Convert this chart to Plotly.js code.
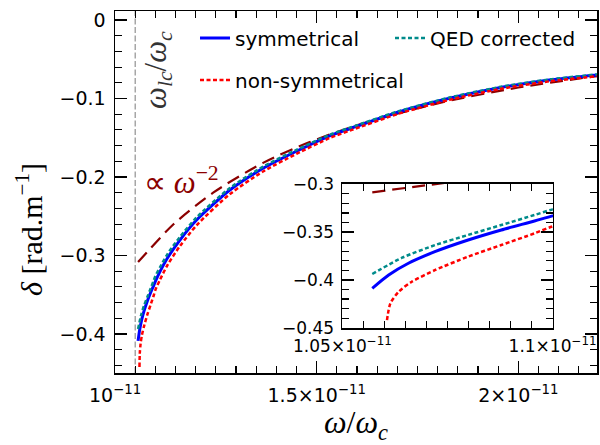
<!DOCTYPE html>
<html>
<head>
<meta charset="utf-8">
<script src="https://cdn.plot.ly/plotly-3.0.1.min.js"></script>
<style>
html,body{margin:0;padding:0;background:#fff;}
#chart{width:600px;height:445px;}
</style>
</head>
<body>
<div id="chart"></div>
<script>
// ---- data (ω/ωc, δ in rad/m) ----
const cutoffX = [1.05e-11];

const symX = [1.0571e-11, 1.0610e-11, 1.0657e-11, 1.0720e-11, 1.0799e-11, 1.0878e-11, 1.0957e-11, 1.1000e-11,
              1.1114e-11, 1.1300e-11, 1.1609e-11, 1.2022e-11, 1.2847e-11, 1.3670e-11, 1.4497e-11, 1.5322e-11,
              1.5817e-11, 1.7054e-11, 1.8292e-11, 1.9530e-11, 2.0767e-11, 2.1950e-11];
const symY = [-0.4088, -0.3949, -0.3826, -0.3705, -0.3583, -0.3478, -0.3384, -0.3330,
              -0.3205, -0.3032, -0.2803, -0.2548, -0.2166, -0.1889, -0.1672, -0.1475,
              -0.1385, -0.1168, -0.0997, -0.0862, -0.0764, -0.0700];

const qedX = [1.0571e-11, 1.0642e-11, 1.0721e-11, 1.0799e-11, 1.0878e-11, 1.0957e-11, 1.1000e-11,
              1.1114e-11, 1.1300e-11, 1.1609e-11, 1.2022e-11, 1.2847e-11, 1.3670e-11, 1.4497e-11, 1.5322e-11,
              1.5817e-11, 1.7054e-11, 1.8292e-11, 1.9530e-11, 2.0767e-11, 2.1950e-11];
const qedY = [-0.3938, -0.3768, -0.3635, -0.3530, -0.3426, -0.3321, -0.3262,
              -0.3150, -0.2982, -0.2763, -0.2515, -0.2140, -0.1868, -0.1655, -0.1462,
              -0.1373, -0.1158, -0.0988, -0.0854, -0.0757, -0.0693];

const nonX = [1.0606e-11, 1.0614e-11, 1.0634e-11, 1.0665e-11, 1.0721e-11, 1.0799e-11, 1.0878e-11, 1.0957e-11, 1.1000e-11,
              1.1114e-11, 1.1300e-11, 1.1609e-11, 1.2022e-11, 1.2847e-11, 1.3670e-11, 1.4497e-11, 1.5322e-11,
              1.5817e-11, 1.7054e-11, 1.8292e-11, 1.9530e-11, 2.0767e-11, 2.1950e-11];
const nonY = [-0.4420, -0.4245, -0.4123, -0.4019, -0.3896, -0.3757, -0.3635, -0.3513, -0.3440,
              -0.3310, -0.3122, -0.2880, -0.2615, -0.2218, -0.1930, -0.1705, -0.1503,
              -0.1410, -0.1190, -0.1017, -0.0880, -0.0781, -0.0717];

const powX = [1.0571e-11, 1.0713e-11, 1.1443e-11, 1.2433e-11, 1.3670e-11, 1.4827e-11, 1.6000e-11, 1.8000e-11, 2.0000e-11, 2.1950e-11];
const powY = [-0.3084, -0.3003, -0.2605, -0.2200, -0.1820, -0.1555, -0.1340, -0.1062, -0.0860, -0.0714];

const mainXTicks = [1e-11, 1.5e-11, 2e-11];
const mainXText = ['10<sup>−11</sup>', '1.5×10<sup>−11</sup>', '2×10<sup>−11</sup>'];
const insetXTicks = [1.05e-11, 1.1e-11];
const insetXText = ['1.05×10<sup>−11</sup>', '1.1×10<sup>−11</sup>'];

// ---- styles ----
const C_SYM = '#0000ff', C_QED = '#008b8b', C_NON = '#ff0000', C_POW = '#8b0000';
const SANS = 'DejaVu Sans', SERIF = 'Liberation Serif';

function series(axes, show) {
  return [
    {x: powX, y: powY, xaxis: axes[0], yaxis: axes[1], mode: 'lines', showlegend: false, hoverinfo: 'skip',
     line: {color: C_POW, width: 2.2, dash: '13px,7px', shape: 'spline', smoothing: 0.8}},
    {x: symX, y: symY, xaxis: axes[0], yaxis: axes[1], mode: 'lines', name: 'symmetrical', showlegend: show, legend: 'legend',
     line: {color: C_SYM, width: 3, shape: 'spline', smoothing: 0.7}},
    {x: qedX, y: qedY, xaxis: axes[0], yaxis: axes[1], mode: 'lines', name: 'QED corrected', showlegend: show, legend: 'legend',
     line: {color: C_QED, width: 2.5, dash: '4px,2.5px', shape: 'spline', smoothing: 0.7}},
    {x: nonX, y: nonY, xaxis: axes[0], yaxis: axes[1], mode: 'lines', name: 'non-symmetrical', showlegend: show, legend: 'legend2',
     line: {color: C_NON, width: 2.5, dash: '4px,2.5px', shape: 'spline', smoothing: 0.7}}
  ];
}

const traces = series(['x', 'y'], true).concat(series(['x2', 'y2'], false));

const axisCommon = {
  showline: true, linecolor: '#000', linewidth: 1.5, mirror: 'allticks',
  ticks: 'inside', ticklen: 12, tickwidth: 1.3, tickcolor: '#000',
  showgrid: false, zeroline: false, automargin: false
};
const minorCommon = {ticks: 'inside', ticklen: 7, tickwidth: 1.1, tickcolor: '#000'};

const layout = {
  width: 600, height: 445,
  margin: {l: 115, r: 3, t: 11, b: 72},
  paper_bgcolor: '#fff', plot_bgcolor: '#fff',
  font: {family: SANS, color: '#000'},
  xaxis: Object.assign({}, axisCommon, {
    range: [0.9999e-11, 2.195e-11],
    tickmode: 'array', tickvals: mainXTicks, ticktext: mainXText,
    tickfont: {family: SANS, size: 19}, ticklabelstandoff: 5,
    minor: Object.assign({tickmode: 'linear', tick0: 1e-11, dtick: 5e-13}, minorCommon),
    title: {text: '<i>ω</i>/<i>ω</i><sub><i>c</i></sub>', font: {family: SERIF, size: 32}, standoff: 24}
  }),
  yaxis: Object.assign({}, axisCommon, {
    range: [-0.4497, 0.0115],
    tickmode: 'linear', tick0: 0, dtick: 0.1,
    tickfont: {family: SANS, size: 19}, ticklabelstandoff: 4,
    minor: Object.assign({tickmode: 'linear', tick0: 0, dtick: 0.02}, minorCommon),
    title: {text: '<i>δ</i> [rad.m<sup>−1</sup>]&nbsp;&nbsp;&nbsp;&nbsp;&nbsp;&nbsp;&nbsp;&nbsp;&nbsp;&nbsp;',
            font: {family: SERIF, size: 30}, standoff: 8}
  }),
  xaxis2: Object.assign({}, axisCommon, {
    domain: [0.471, 0.9087], anchor: 'y2',
    range: [1.0499e-11, 1.1001e-11],
    tickmode: 'array', tickvals: insetXTicks, ticktext: insetXText,
    tickfont: {family: SANS, size: 17}, ticklabelstandoff: 2,
    minor: Object.assign({tickmode: 'linear', tick0: 1.05e-11, dtick: 5e-14}, minorCommon)
  }),
  yaxis2: Object.assign({}, axisCommon, {
    domain: [0.1243, 0.5221], anchor: 'x2',
    range: [-0.4503, -0.2997],
    tickmode: 'linear', tick0: 0, dtick: 0.05,
    tickfont: {family: SANS, size: 17}, ticklabelstandoff: 3,
    minor: Object.assign({tickmode: 'linear', tick0: 0, dtick: 0.01}, minorCommon)
  }),
  legend: {orientation: 'h', x: 0.166, xanchor: 'left', y: 0.9255, yanchor: 'middle',
           bgcolor: 'rgba(0,0,0,0)', borderwidth: 0, itemwidth: 30, entrywidth: 150, entrywidthmode: 'pixels',
           font: {family: SANS, size: 20, color: '#000'}},
  legend2: {orientation: 'h', x: 0.166, xanchor: 'left', y: 0.8094, yanchor: 'middle',
            bgcolor: 'rgba(0,0,0,0)', borderwidth: 0, itemwidth: 30,
            font: {family: SANS, size: 20, color: '#000'}},
  shapes: [
    {type: 'line', xref: 'x', yref: 'y domain', x0: cutoffX[0], x1: cutoffX[0], y0: 0, y1: 1,
     line: {color: '#9a9a9a', width: 1.3, dash: '6px,2.5px'}, layer: 'below'}
  ],
  annotations: [
    {xref: 'paper', yref: 'paper', x: 0.0892, y: 0.837, xanchor: 'center', yanchor: 'middle',
     showarrow: false, textangle: -90,
     text: '<i>ω</i><sub><i>lc</i></sub>/<i>ω</i><sub><i>c</i></sub>',
     font: {family: SERIF, size: 31, color: '#333'}},
    {xref: 'paper', yref: 'paper', x: 0.137, y: 0.532, xanchor: 'center', yanchor: 'middle',
     showarrow: false,
     text: '∝ <i>ω</i><sup>−2</sup>',
     font: {family: SERIF, size: 31, color: C_POW}}
  ]
};

Plotly.newPlot('chart', traces, layout, {displayModeBar: false, staticPlot: true});
</script>
</body>
</html>
